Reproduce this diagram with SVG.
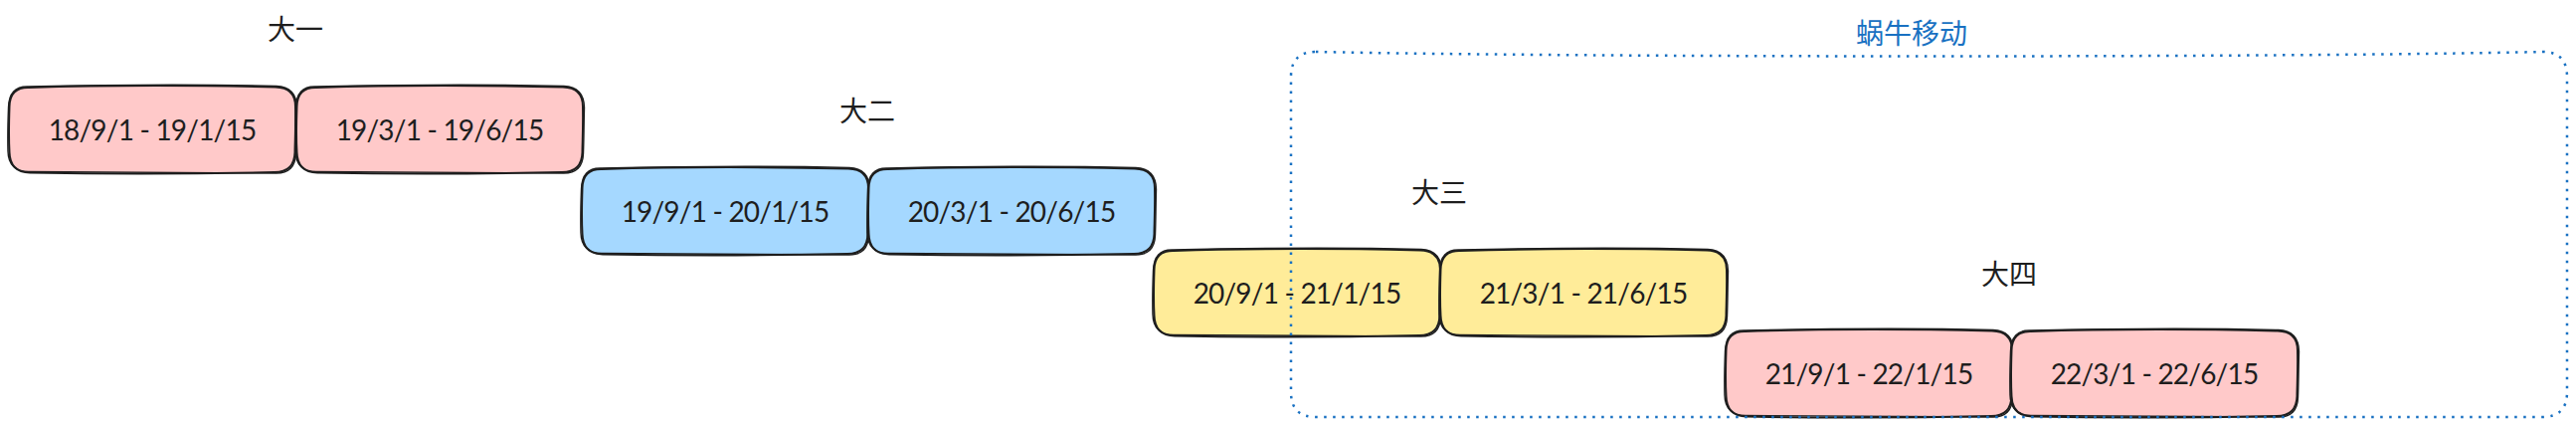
<svg xmlns="http://www.w3.org/2000/svg" xmlns:xlink="http://www.w3.org/1999/xlink" width="2590" height="428" viewBox="0 0 2590 428">
<style>
.bg{fill:#ffffff}
.sk{fill:none;stroke:#1e1e1e;stroke-width:2;stroke-linecap:round;stroke-linejoin:round}
.sk2{fill:none;stroke:#1e1e1e;stroke-width:1.4;stroke-linecap:round;stroke-linejoin:round}
.pink{fill:#ffc9c9}
.blue{fill:#a5d8ff}
.yellow{fill:#ffec99}
.t{font-family:Lato,"Noto Sans",sans-serif;font-size:28px;letter-spacing:-0.8px;fill:#1e1e1e;text-anchor:middle;dominant-baseline:central}
.lbl{font-family:"Noto Sans CJK SC","Noto Sans",sans-serif;font-size:28px;fill:#1e1e1e;text-anchor:middle;dominant-baseline:central}
.title{font-family:"Noto Sans CJK SC","Noto Sans",sans-serif;font-size:28px;fill:#1971c2;text-anchor:middle;dominant-baseline:central}
.frame{fill:none;stroke:#1971c2;stroke-width:2.5;stroke-dasharray:2.5 6.5}
</style>
<defs>
<g id="box">
<rect x="0" y="0" width="288" height="86" rx="20"/>
<path class="sk" d="M20,1 C100,-1.5 200,-1 268,0.5 Q288,1 288,20 C288.5,40 287.5,58 287.5,66 Q287,86 267,86 C200,87.5 100,88 21,86.5 Q1,86 0.5,66 C-0.5,50 0,35 0.5,20 Q1,0.5 20,1 Z"/>
<path class="sk2" d="M19,0 C110,-2 190,-2.5 269,-0.5 Q289,0.5 289.5,21 C289,42 289,56 288.5,67 Q288,87.5 268,87 C190,86 110,86.5 20,85.5 Q-0.5,85 -1,65 C-1.5,48 -1,34 -0.5,21 Q0,-0.5 19,0"/>
</g>
</defs>
<rect class="bg" x="0" y="0" width="2590" height="428"/>
<g id="labels">
<text class="lbl" x="297" y="28">大一</text>
<text class="lbl" x="872" y="110">大二</text>
<text class="lbl" x="1447" y="192">大三</text>
<text class="lbl" x="2020" y="274">大四</text>
</g>
<g id="n1"><use xlink:href="#box" class="pink" transform="translate(9,87)"/><text class="t" x="153" y="130">18/9/1 - 19/1/15</text></g>
<g id="n2"><use xlink:href="#box" class="pink" transform="translate(298,87)"/><text class="t" x="442" y="130">19/3/1 - 19/6/15</text></g>
<g id="n3"><use xlink:href="#box" class="blue" transform="translate(585,169)"/><text class="t" x="729" y="212">19/9/1 - 20/1/15</text></g>
<g id="n4"><use xlink:href="#box" class="blue" transform="translate(873,169)"/><text class="t" x="1017" y="212">20/3/1 - 20/6/15</text></g>
<g id="n5"><use xlink:href="#box" class="yellow" transform="translate(1160,251)"/><text class="t" x="1304" y="294">20/9/1 - 21/1/15</text></g>
<g id="n6"><use xlink:href="#box" class="yellow" transform="translate(1448,251)"/><text class="t" x="1592" y="294">21/3/1 - 21/6/15</text></g>
<g id="n7"><use xlink:href="#box" class="pink" transform="translate(1735,332)"/><text class="t" x="1879" y="375">21/9/1 - 22/1/15</text></g>
<g id="n8"><use xlink:href="#box" class="pink" transform="translate(2022,332)"/><text class="t" x="2166" y="375">22/3/1 - 22/6/15</text></g>
<g id="connectors"></g>
<g id="snail">
<text class="title" x="1922" y="32">蜗牛移动</text>
<path class="frame" d="M1323,52 C1600,58 2300,58 2556,52 Q2581,52 2581,77 L2581,394 Q2581,419 2556,419 L1323,419 Q1298,419 1298,394 L1298,77 Q1298,52 1323,52 Z"/>
</g>
</svg>
